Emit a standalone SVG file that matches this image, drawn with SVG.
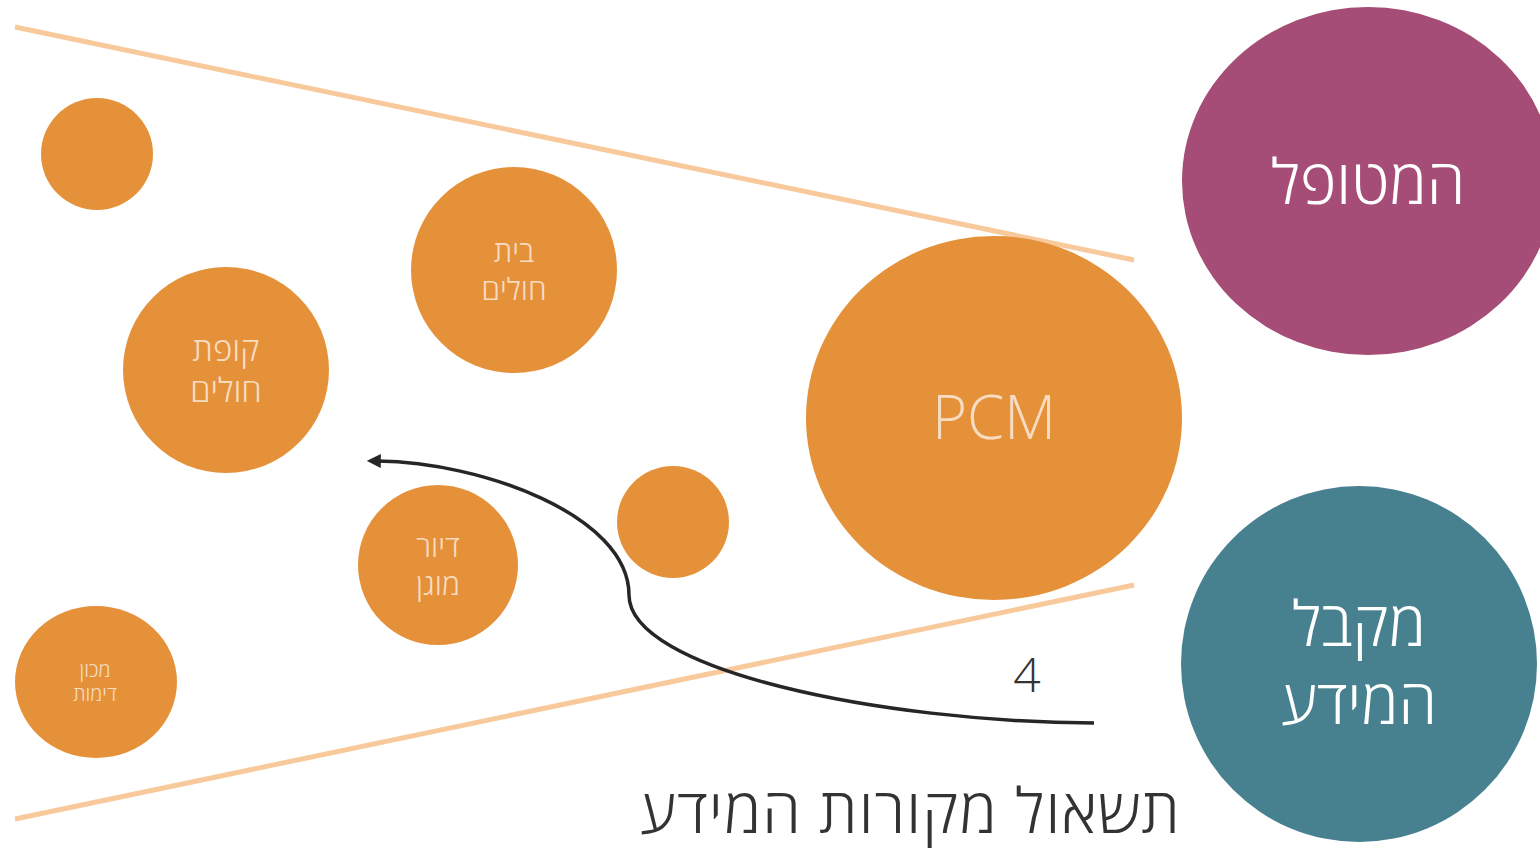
<svg xmlns="http://www.w3.org/2000/svg" width="1540" height="848" viewBox="0 0 1540 848">
<style>
.org{fill:#e5913a}
.lbl{font-family:"Open Sans","DejaVu Sans",sans-serif;font-weight:300;fill:#f8dcc2;text-anchor:middle;direction:rtl}
.big{font-family:"Open Sans","DejaVu Sans",sans-serif;font-weight:300;fill:#ffffff;text-anchor:middle;direction:rtl}
.guide{stroke:#f8c99b;stroke-width:5;fill:none}
</style>
<defs>
<marker id="ah" viewBox="0 0 10 10" refX="2" refY="5" markerWidth="4" markerHeight="4" orient="auto-start-reverse" markerUnits="strokeWidth">
<path d="M0,0 L10,5 L0,10 z" fill="#262626"/>
</marker>
</defs>
<rect width="1540" height="848" fill="#ffffff"/>
<g id="guides">
<line class="guide" x1="15" y1="27" x2="1134" y2="260"/>
<line class="guide" x1="15" y1="819" x2="1134" y2="585"/>
</g>
<g id="n-small1"><circle class="org" cx="97" cy="154" r="56"/></g>
<g id="n-kupat"><circle class="org" cx="226" cy="370" r="103"/>
<text class="lbl" x="226" y="361" font-size="33">קופת</text>
<text class="lbl" x="226" y="402" font-size="33">חולים</text></g>
<g id="n-beit"><circle class="org" cx="514" cy="270" r="103"/>
<text class="lbl" x="514" y="262" font-size="30">בית</text>
<text class="lbl" x="514" y="300" font-size="30">חולים</text></g>
<g id="n-diyur"><circle class="org" cx="438" cy="565" r="80"/>
<text class="lbl" x="438" y="557" font-size="30">דיור</text>
<text class="lbl" x="438" y="595" font-size="30">מוגן</text></g>
<g id="n-machon"><ellipse class="org" cx="96" cy="682" rx="81" ry="76"/>
<text class="lbl" x="95" y="677" font-size="20">מכון</text>
<text class="lbl" x="95" y="701" font-size="20">דימות</text></g>
<g id="n-small2"><circle class="org" cx="673" cy="522" r="56"/></g>
<g id="n-pcm"><ellipse class="org" cx="994" cy="418" rx="188" ry="182"/>
<text class="lbl" x="994" y="439" font-size="60" style="direction:ltr">PCM</text></g>
<g id="n-patient"><ellipse cx="1368" cy="181" rx="186" ry="174" fill="#a54d77"/>
<text class="big" x="1368" y="204" font-size="62">המטופל</text></g>
<g id="n-receiver"><circle cx="1359" cy="664" r="178" fill="#47808e"/>
<text class="big" x="1359" y="646" font-size="62">מקבל</text>
<text class="big" x="1359" y="724" font-size="62">המידע</text></g>
<g id="connectors">
<path d="M1094,723 C880,722 629,670 629,595 C629,515 480,462 378,461" fill="none" stroke="#262626" stroke-width="3.5" marker-end="url(#ah)"/>
</g>
<text x="1027" y="692" font-family="'Open Sans','DejaVu Sans',sans-serif" font-weight="300" font-size="48" fill="#333333" text-anchor="middle">4</text>
<text x="1181" y="833" font-family="'Open Sans','DejaVu Sans',sans-serif" font-weight="300" font-size="62" letter-spacing="1.2" fill="#333333" text-anchor="start" direction="rtl">תשאול מקורות המידע</text>
</svg>
